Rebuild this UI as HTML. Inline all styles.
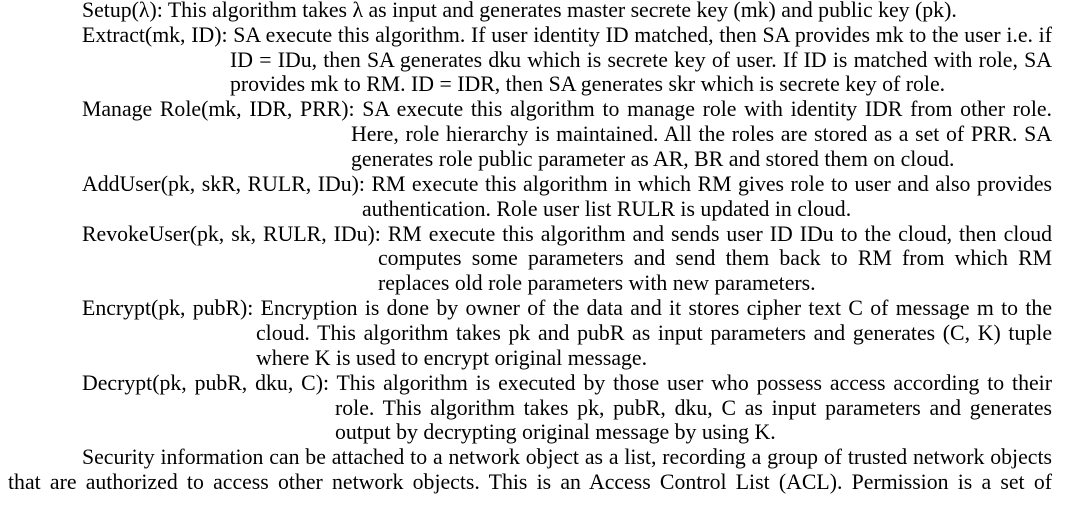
<!DOCTYPE html>
<html><head><meta charset="utf-8"><style>
body{margin:0;width:1068px;height:513px;background:#fff;overflow:hidden;position:relative}
.l{position:absolute;right:16px;font:21.8px/25px "Liberation Serif",serif;color:#000;white-space:nowrap;overflow:visible}
.j{text-align:justify;text-align-last:justify;white-space:normal}
</style></head><body>
<div class="l" style="left:82px;top:-2px">Setup(λ): This algorithm takes λ as input and generates master secrete key (mk) and public key (pk).</div>
<div class="l j" style="left:82px;top:23px">Extract(mk, ID): SA execute this algorithm. If user identity ID matched, then SA provides mk to the user i.e. if</div>
<div class="l j" style="left:230px;top:48px">ID = IDu, then SA generates dku which is secrete key of user. If ID is matched with role, SA</div>
<div class="l" style="left:230px;top:72px">provides mk to RM. ID = IDR, then SA generates skr which is secrete key of role.</div>
<div class="l j" style="left:82px;top:97px">Manage Role(mk, IDR, PRR): SA execute this algorithm to manage role with identity IDR from other role.</div>
<div class="l j" style="left:351px;top:122px">Here, role hierarchy is maintained. All the roles are stored as a set of PRR. SA</div>
<div class="l" style="left:351px;top:147px">generates role public parameter as AR, BR and stored them on cloud.</div>
<div class="l j" style="left:82px;top:172px">AddUser(pk, skR, RULR, IDu): RM execute this algorithm in which RM gives role to user and also provides</div>
<div class="l" style="left:362px;top:197px">authentication. Role user list RULR is updated in cloud.</div>
<div class="l j" style="left:82px;top:222px">RevokeUser(pk, sk, RULR, IDu): RM execute this algorithm and sends user ID IDu to the cloud, then cloud</div>
<div class="l j" style="left:378px;top:246px">computes some parameters and send them back to RM from which RM</div>
<div class="l" style="left:378px;top:271px">replaces old role parameters with new parameters.</div>
<div class="l j" style="left:82px;top:296px">Encrypt(pk, pubR): Encryption is done by owner of the data and it stores cipher text C of message m to the</div>
<div class="l j" style="left:256px;top:321px">cloud. This algorithm takes pk and pubR as input parameters and generates (C, K) tuple</div>
<div class="l" style="left:256px;top:346px">where K is used to encrypt original message.</div>
<div class="l j" style="left:82px;top:371px">Decrypt(pk, pubR, dku, C): This algorithm is executed by those user who possess access according to their</div>
<div class="l j" style="left:335px;top:396px">role. This algorithm takes pk, pubR, dku, C as input parameters and generates</div>
<div class="l" style="left:335px;top:420px">output by decrypting original message by using K.</div>
<div class="l j" style="left:82px;top:445px">Security information can be attached to a network object as a list, recording a group of trusted network objects</div>
<div class="l j" style="left:8px;top:470px">that are authorized to access other network objects. This is an Access Control List (ACL). Permission is a set of</div>
</body></html>
